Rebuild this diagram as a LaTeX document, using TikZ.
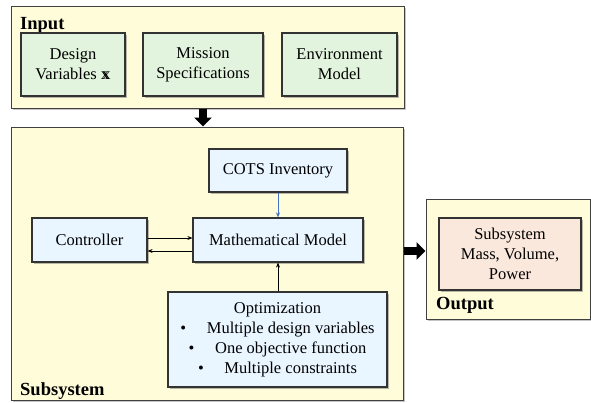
\documentclass[tikz,border=0pt]{standalone}
\usepackage{fontspec}
\setmainfont{Liberation Serif}
\usepackage{xcolor}
\usetikzlibrary{positioning, arrows.meta, shadows}
\definecolor{panelyellow}{RGB}{255, 252, 217}
\definecolor{ingreen}{RGB}{226, 244, 222}
\definecolor{subblue}{RGB}{233, 245, 255}
\definecolor{outpink}{RGB}{251, 232, 221}
\definecolor{cotsblue}{RGB}{68, 114, 196}
\newcommand{\dsx}{\rlap{x}\kern0.09em x}

\begin{document}
\begin{tikzpicture}[x=1pt, y=-1pt, every node/.style={font=\rmfamily\fontsize{16.5}{20}\selectfont},
  panel/.style={draw=black!75, line width=1pt, fill=panelyellow, drop shadow={shadow xshift=1.5pt, shadow yshift=-1.5pt, fill=black!45}},
  block/.style={draw=black!80, line width=1.2pt, align=center, inner sep=2pt, drop shadow={shadow xshift=1.5pt, shadow yshift=-1.5pt, fill=black!55}},
  title/.style={font=\rmfamily\fontsize{18.5}{20}\selectfont\bfseries, anchor=base west, inner sep=0pt},
  fat/.style={line width=8pt, -{Triangle[length=9pt, width=17pt]}},
  thin/.style={line width=0.8pt, -{Stealth[length=5pt, width=4pt]}}]
\useasboundingbox (0,0) rectangle (591,402);
% panels
\node[panel, minimum width=393pt, minimum height=102pt] (inp) at (207.5,57) {};
\node[panel, minimum width=392pt, minimum height=273pt] (sub) at (207,263.5) {};
\node[panel, minimum width=164pt, minimum height=120pt] (outp) at (508,259) {};
\node[title] at (20,29) {Input};
\node[title] at (20,395) {Subsystem};
\node[title] at (436,309) {Output};
% input blocks
\node[block, fill=ingreen, minimum width=104pt, minimum height=63pt] (dv) at (73,64.5) {Design\\Variables \dsx};
\node[block, fill=ingreen, minimum width=120pt, minimum height=63pt] (ms) at (203,64.5) {Mission\\Specifications};
\node[block, fill=ingreen, minimum width=115pt, minimum height=63pt] (em) at (339.5,64.5) {Environment\\Model};
% subsystem blocks
\node[block, fill=subblue, minimum width=138pt, minimum height=43pt] (cots) at (278,170.5) {COTS Inventory};
\node[block, fill=subblue, minimum width=115pt, minimum height=44pt] (ctrl) at (89.5,240) {Controller};
\node[block, fill=subblue, minimum width=170pt, minimum height=44pt] (mm) at (278,240) {Mathematical Model};
\node[block, fill=subblue, minimum width=219pt, minimum height=95pt] (opt) at (277.5,339.5) {Optimization\\
  \textbullet\quad\ Multiple design variables\\
  \textbullet\quad\ One objective function\\
  \textbullet\quad\ Multiple constraints};
% output block
\node[block, fill=outpink, minimum width=142pt, minimum height=72pt] (so) at (510,254) {Subsystem\\Mass, Volume,\\Power};
% connectors
\draw[fat] (inp.south -| ms.center) -- (sub.north -| ms.center);
\draw[fat] (sub.east |- 0,251) -- (outp.west |- 0,251);
\draw[thin, cotsblue] (cots.south) -- (mm.north);
\draw[thin] (opt.north -| mm.center) -- (mm.south);
\draw[thin] ([yshift=2pt]ctrl.east) -- ([yshift=2pt]ctrl.east -| mm.west);
\draw[thin] ([yshift=-11pt]ctrl.east -| mm.west) -- ([yshift=-11pt]ctrl.east);
\end{tikzpicture}
\end{document}
